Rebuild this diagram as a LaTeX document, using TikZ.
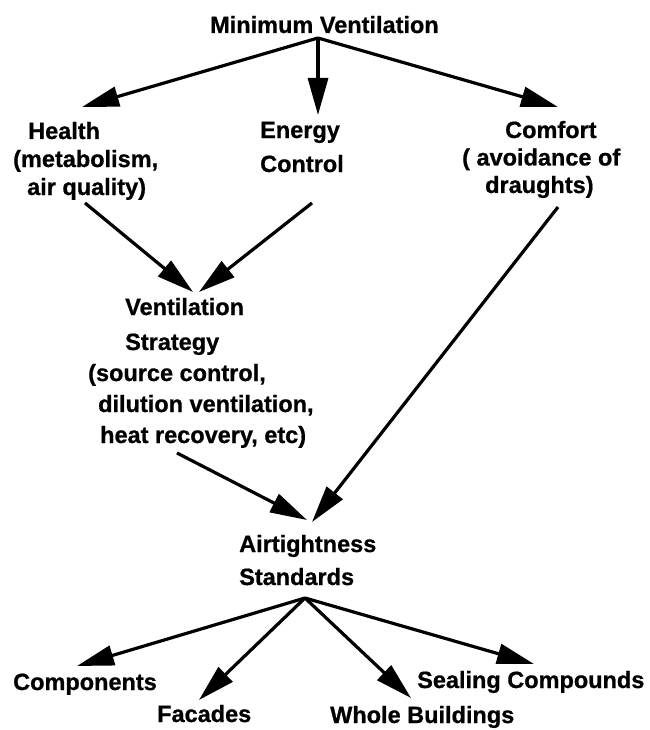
\documentclass[tikz,border=0pt]{standalone}
\usepackage{fontspec}
\setmainfont[BoldFeatures={FakeBold=0.8}]{Liberation Sans}
\usetikzlibrary{arrows.meta}

\begin{document}
\begin{tikzpicture}[
  x=1pt, y=-1pt,
  %--- shared styles ------------------------------------------------
  lbl/.style={
    inner sep=0pt, anchor=base west, align=left,
    font=\bfseries\fontsize{23.5}{#1}\selectfont
  },
  lbl/.default=28,
  arr/.style={-{Triangle[length=37pt,width=20pt]}, line width=3.2pt},
]
\useasboundingbox (0,0) rectangle (649,730);

%% --- ROW 0: top node (anchored on the last baseline) -------------
\node[lbl] (minvent) at (210,33) {Minimum Ventilation};

%% --- ROW 1: three needs ------------------------------------------
\node[lbl] (health) at (13,195)
  {\hspace*{15pt}Health\\(metabolism,\\\hspace*{14pt}air quality)};
\node[lbl=34] (energy) at (260,172) {Energy\\Control};
\node[lbl=27.5] (comfort) at (462,193)
  {\hspace*{43pt}Comfort\\( avoidance of\\\hspace*{23pt}draughts)};

%% --- ROW 2: strategy ---------------------------------------------
\node[lbl=31] (strategy) at (88,443)
  {\hspace*{37pt}Ventilation\\[4pt]\hspace*{37pt}Strategy\\(source control,\\
   \hspace*{10pt}dilution ventilation,\\\hspace*{12pt}heat recovery, etc)};

%% --- ROW 3: standards --------------------------------------------
\node[lbl=33] (airtight) at (239,585) {Airtightness\\Standards};

%% --- ROW 4: four leaves ------------------------------------------
\node[lbl] (components) at (13,690)  {Components};
\node[lbl] (facades)    at (157,722) {Facades};
\node[lbl] (whole)      at (330,723) {Whole Buildings};
\node[lbl] (sealing)    at (417,688) {Sealing Compounds};

%% --- arrow ends --------------------------------------------------
\coordinate (minvent-out)  at (318,38);
\coordinate (health-in)    at (82,107);
\coordinate (energy-in)    at (318,115);
\coordinate (comfort-in)   at (558,107);
\coordinate (health-out)   at (85,203);
\coordinate (energy-out)   at (312,203);
\coordinate (comfort-out)  at (558,207);
\coordinate (strategy-inl) at (193,292);
\coordinate (strategy-inr) at (199,292);
\coordinate (strategy-out) at (177,453);
\coordinate (airtight-inl) at (307,520);
\coordinate (airtight-inr) at (312,522);
\coordinate (airtight-out) at (305,598);
\coordinate (components-in) at (77,666);
\coordinate (facades-in)   at (199,700);
\coordinate (whole-in)     at (411,698);
\coordinate (sealing-in)   at (534,664);

%% --- arrows ------------------------------------------------------
% minimum ventilation -> needs
\draw[arr] (minvent-out) -- (health-in);
\draw[arr] (minvent-out) -- (energy-in);
\draw[arr] (minvent-out) -- (comfort-in);
% health, energy -> strategy
\draw[arr] (health-out) -- (strategy-inl);
\draw[arr] (energy-out) -- (strategy-inr);
% strategy, comfort -> airtightness
\draw[arr] (strategy-out) -- (airtight-inl);
\draw[arr] (comfort-out) -- (airtight-inr);
% airtightness -> leaves (fan out)
\draw[arr] (airtight-out) -- (components-in);
\draw[arr] (airtight-out) -- (facades-in);
\draw[arr] (airtight-out) -- (whole-in);
\draw[arr] (airtight-out) -- (sealing-in);

\end{tikzpicture}
\end{document}
